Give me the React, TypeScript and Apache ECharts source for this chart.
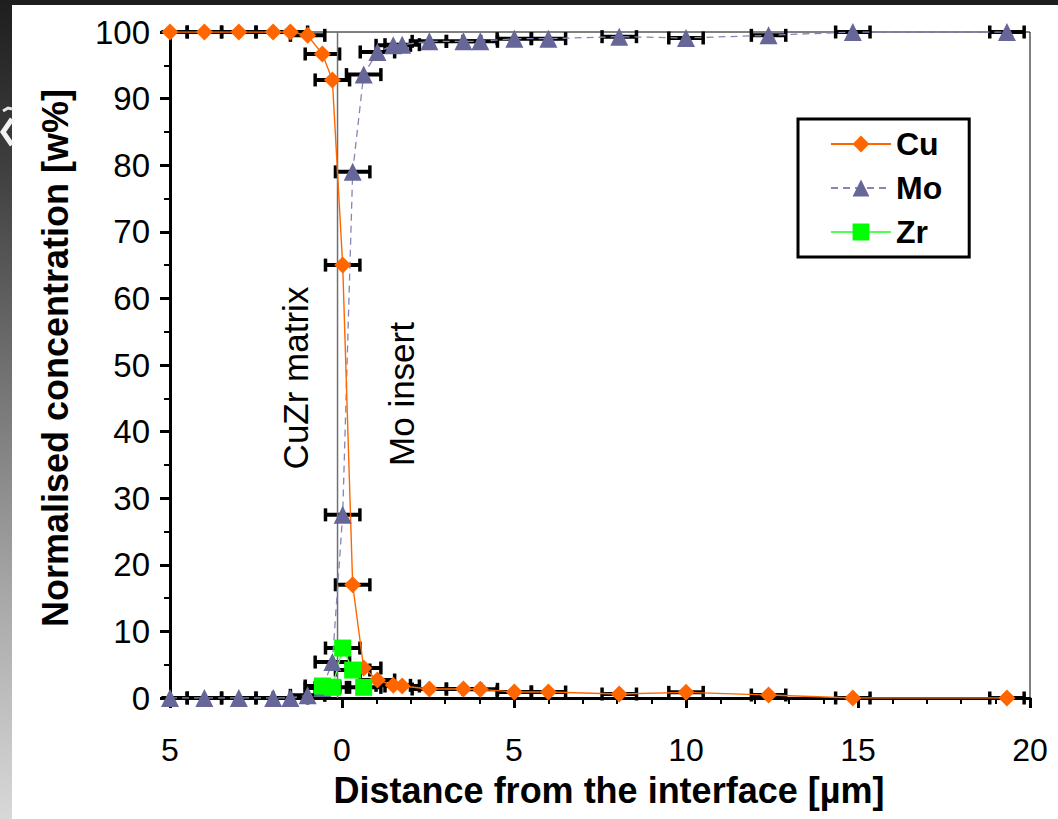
import React, { useEffect, useRef } from "react";
import * as echarts from "echarts";

// Measured profile across the CuZr / Mo interface
const distance = [-5, -4, -3, -2, -1.5, -1, -0.57, -0.28, 0.02, 0.31, 0.63, 1.03, 1.49, 1.75, 2.54, 3.53, 4.02, 5.01, 6.0, 8.06, 10.0, 12.4, 14.85, 19.33];
const cu = [100, 100, 100, 100, 100, 99.5, 96.7, 92.8, 65, 17, 4.5, 2.7, 1.9, 1.8, 1.35, 1.35, 1.3, 0.9, 0.9, 0.6, 0.85, 0.45, 0, 0];
const mo = [0, 0, 0, 0, 0, 0.4, 1.5, 5.4, 27.5, 79, 93.6, 97, 98, 98.1, 98.6, 98.6, 98.6, 99, 99, 99.3, 99.1, 99.5, 100, 100];
const zrDistance = [-0.57, -0.28, 0.02, 0.31, 0.63];
const zr = [1.8, 1.6, 7.5, 4.2, 1.6];
const xError = 0.5; // horizontal uncertainty of each measurement, µm
const interfacePosition = -0.13;

const xTickValues = [-5, 0, 5, 10, 15, 20];
const xTickLabels = ["5", "0", "5", "10", "15", "20"];
const X_MIN = -5;
const X_MAX = 20;

const FONT = '"Liberation Sans", Arial, Helvetica, sans-serif';

const pairs = (xs: number[], ys: number[]) => xs.map((x, i) => [x, ys[i]]);

const errorBarSeries = (xs: number[], ys: number[]) => ({
  type: "custom",
  silent: true,
  clip: false,
  data: pairs(xs, ys),
  encode: { x: 0, y: 1 },
  renderItem: (_params: any, api: any) => {
    const x = api.value(0);
    const y = api.value(1);
    const lowLimit = X_MIN - 0.25;
    const lowClipped = x - xError < lowLimit;
    const left = api.coord([lowClipped ? lowLimit : x - xError, y]);
    const right = api.coord([x + xError, y]);
    const bar = { stroke: "#000", lineWidth: 4 };
    const cap = { stroke: "#000", lineWidth: 3.5 };
    const children: any[] = [
      { type: "line", shape: { x1: left[0], y1: left[1], x2: right[0], y2: right[1] }, style: bar },
      { type: "line", shape: { x1: right[0], y1: right[1] - 6.5, x2: right[0], y2: right[1] + 6.5 }, style: cap },
    ];
    if (!lowClipped) {
      children.push({ type: "line", shape: { x1: left[0], y1: left[1] - 6.5, x2: left[0], y2: left[1] + 6.5 }, style: cap });
    }
    return { type: "group", children };
  },
});

export default function App() {
  const ref = useRef<HTMLDivElement>(null);

  useEffect(() => {
    if (!ref.current) return;
    const chart = echarts.init(ref.current, null, { renderer: "svg" });

    const axisCommon = {
      type: "value",
      axisLine: { show: true, onZero: false, lineStyle: { color: "#000", width: 3 } },
      axisTick: { show: true, inside: false, length: 10, lineStyle: { color: "#000", width: 3 } },
      minorTick: { show: true, length: 6, lineStyle: { color: "#000", width: 2 } },
      splitLine: { show: false },
      minorSplitLine: { show: false },
    };

    chart.setOption({
      animation: false,
      backgroundColor: "#fff",
      textStyle: { fontFamily: FONT },
      grid: {
        left: 170,
        right: 28,
        top: 32,
        bottom: 121,
        show: true,
        borderColor: "#000",
        borderWidth: 1,
        backgroundColor: "transparent",
      },
      xAxis: {
        ...axisCommon,
        min: X_MIN,
        max: X_MAX,
        interval: 5,
        minorTick: { ...axisCommon.minorTick, splitNumber: 5 },
        axisLabel: {
          fontSize: 32,
          color: "#000",
          fontFamily: FONT,
          margin: 36,
          formatter: (v: number) => {
            const i = xTickValues.indexOf(v);
            return i >= 0 ? xTickLabels[i] : String(v);
          },
        },
      },
      yAxis: {
        ...axisCommon,
        min: 0,
        max: 100,
        interval: 10,
        minorTick: { ...axisCommon.minorTick, splitNumber: 2 },
        axisLabel: { fontSize: 33, color: "#000", fontFamily: FONT, margin: 20 },
      },
      legend: {
        orient: "vertical",
        left: 798,
        top: 119,
        data: ["Cu", "Mo", "Zr"],
        itemWidth: 60,
        itemHeight: 21,
        itemGap: 12,
        itemTextGap: 13,
        padding: [9, 27, 9, 32],
        borderColor: "#000",
        borderWidth: 3,
        backgroundColor: "#fff",
        textStyle: { fontSize: 32, fontWeight: "bold", color: "#000", fontFamily: FONT, lineHeight: 32 },
      },
      graphic: [
        { type: "rect", shape: { x: 0, y: 0, width: 1058, height: 5 }, style: { fill: "#1e1e1e" }, silent: true },
        {
          type: "rect",
          shape: { x: 0, y: 0, width: 12, height: 819 },
          style: {
            fill: new echarts.graphic.LinearGradient(0, 0, 0, 1, [
              { offset: 0, color: "#1e1e1e" },
              { offset: 0.2, color: "#3e3e3e" },
              { offset: 0.73, color: "#a8a8a8" },
              { offset: 1, color: "#d8d8d8" },
            ]),
          },
          silent: true,
        },
        {
          type: "polyline",
          shape: { points: [[12, 119], [3, 132], [12, 145]] },
          style: { stroke: "#f2f2f2", lineWidth: 5, fill: "none" },
          silent: true,
        },
        {
          type: "polyline",
          shape: { points: [[3, 111], [8, 108], [12, 109]] },
          style: { stroke: "#e8e8e8", lineWidth: 3, fill: "none" },
          silent: true,
        },
        {
          type: "text",
          x: 55,
          y: 358,
          rotation: Math.PI / 2,
          style: {
            text: "Normalised concentration [w%]",
            fontSize: 36,
            fontWeight: "bold",
            fontFamily: FONT,
            fill: "#000",
            align: "center",
            verticalAlign: "middle",
          },
        },
        {
          type: "text",
          x: 609,
          y: 790,
          style: {
            text: "Distance from the interface [µm]",
            fontSize: 36,
            fontWeight: "bold",
            fontFamily: FONT,
            fill: "#000",
            align: "center",
            verticalAlign: "middle",
          },
        },
        {
          type: "text",
          x: 295,
          y: 378,
          rotation: Math.PI / 2,
          style: {
            text: "CuZr matrix",
            fontSize: 35,
            fontFamily: FONT,
            fill: "#000",
            align: "center",
            verticalAlign: "middle",
          },
        },
        {
          type: "text",
          x: 401,
          y: 394,
          rotation: Math.PI / 2,
          style: {
            text: "Mo insert",
            fontSize: 35,
            fontFamily: FONT,
            fill: "#000",
            align: "center",
            verticalAlign: "middle",
          },
        },
      ],
      series: [
        {
          name: "interface",
          type: "line",
          silent: true,
          showSymbol: false,
          data: [
            [interfacePosition, 0],
            [interfacePosition, 100],
          ],
          lineStyle: { color: "#707070", width: 1.5 },
        },
        errorBarSeries(distance, mo),
        errorBarSeries(distance, cu),
        errorBarSeries(zrDistance, zr),
        {
          name: "Mo",
          type: "line",
          data: pairs(distance, mo),
          symbol: "triangle",
          symbolSize: 18,
          itemStyle: { color: "#666699" },
          lineStyle: { color: "#8585b8", width: 1.3, type: [7, 5] },
        },
        {
          name: "Cu",
          type: "line",
          data: pairs(distance, cu),
          symbol: "diamond",
          symbolSize: 17,
          itemStyle: { color: "#FF6600" },
          lineStyle: { color: "#FF6600", width: 1.4 },
        },
        {
          name: "Zr",
          type: "line",
          data: pairs(zrDistance, zr),
          symbol: "rect",
          symbolSize: 17,
          itemStyle: { color: "#00FF00" },
          lineStyle: { color: "#55FF55", width: 1.4 },
        },
      ],
    });

    return () => chart.dispose();
  }, []);

  return <div ref={ref} style={{ position: "fixed", left: 0, top: 0, width: 1058, height: 819 }} />;
}
